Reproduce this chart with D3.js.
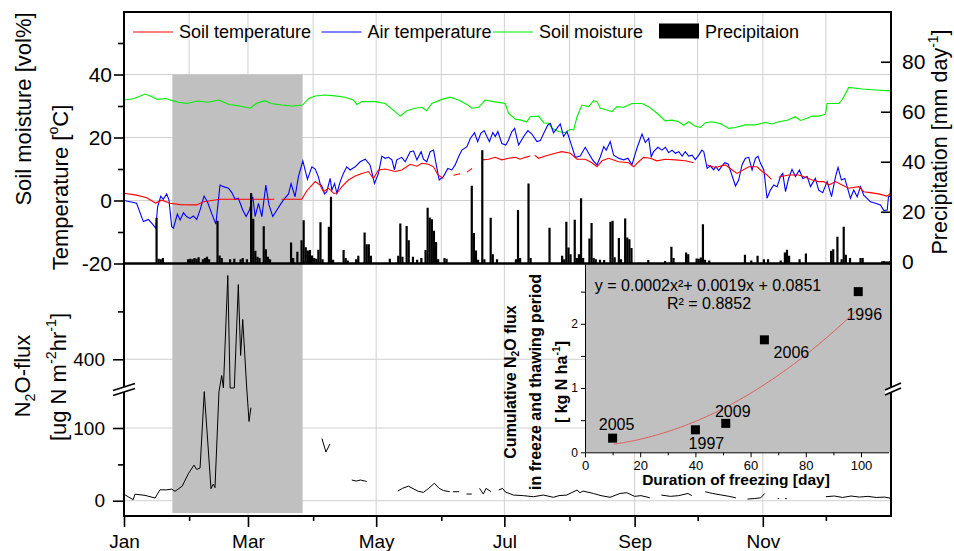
<!DOCTYPE html>
<html>
<head>
<meta charset="utf-8">
<script src="https://cdn.jsdelivr.net/npm/d3@7"></script>
<style>
  body { margin: 0; background: #fff; }
  svg { display: block; }
  text { font-family: "Liberation Sans", Arial, sans-serif; fill: #000; }
</style>
</head>
<body>
<svg id="chart" width="954" height="551"></svg>
<script>
// ---- Daily series, [day of year (0 = 1 Jan), value]; null marks a gap in the record ----
const airTemperature = [
  [0,0],[2.9,-0.4],[6,-0.9],[9.2,-6.7],[11.6,-6],[14,-7.8],[15.1,-8.8],[16,-2],[17.5,1.4],[18.7,0.4],
  [20.3,2.1],[21.4,0.2],[22.7,-8.3],[23.5,-8.8],[25.4,-4.3],[26.7,-6.2],[28.3,-3.9],[29.8,-5.1],[31.4,-5.7],
  [33,-4.9],[34.6,-6],[36.2,-3],[38.1,1.4],[39.7,-0.4],[41.7,-4.1],[43.7,-7.5],[45.7,4.9],[47.3,4.4],
  [49.7,3.9],[51.3,2.5],[52.9,0.4],[54.4,0.7],[56.5,-3],[58.1,-5.1],[59.7,-3],[61.3,1.2],[62.4,-5.1],
  [64,-0.9],[65.6,-5.1],[67.5,4.9],[69,-1.4],[70.8,-5.1],[74.3,-1.4],[75.9,0.2],[78.3,2.1],[79.5,5.4],
  [81.4,1.2],[83,7.6],[85.1,12.6],[87.3,6.7],[89.4,10.7],[91,10],[92.5,7.5],[93.3,5.4],[94.4,4.2],
  [95.4,2.1],[96.5,2.8],[98.1,7],[98.9,3.3],[100.2,5.4],[101.3,2.3],[102.9,6],[104.4,8.6],[106,10.7],
  [107.6,9.7],[110,10.7],[112.4,12.3],[114.8,13.1],[117.1,11.3],[119.2,5.4],[121.1,8.6],[122.7,14.1],
  [124.3,13.4],[125.9,13.7],[127.5,12.9],[128.7,9.7],[129.8,12.9],[132.2,13.7],[133.8,12.3],[136.2,15.5],
  [137.8,15.7],[139.4,12.9],[141.4,15.5],[142.5,13.1],[144.1,12.3],[145.7,15.5],[147.3,16],[148.4,12],
  [150,6.5],[152,7.6],[154.1,10.2],[156,9.7],[157.6,11.3],[159.2,13.9],[160.8,16],[163.2,17.1],
  [164.8,19.7],[166.8,21.5],[168.3,18.7],[169.8,21.3],[171.4,22.2],[172.7,20.3],[173.9,18.7],[175.5,21.6],
  [176.7,20.3],[177.9,21.9],[179.8,18.1],[181.7,17.6],[183,19.2],[184.6,21.9],[185.9,22.9],[187.8,17.6],
  [190.2,20.3],[192.2,22.2],[194.1,21.1],[196.5,18.7],[198.1,19],[199.7,21.3],[201.7,24],[202.9,24.5],
  [204.4,21.5],[206,22.9],[207.6,24.3],[209.2,20.3],[210.8,21.9],[212.4,18.7],[214.8,13.7],[217.1,14.1],
  [219.5,16.9],[221.1,15],[223,12.9],[225.1,11.3],[226.7,13.9],[228.3,17.1],[229.5,16],[231.4,18.7],
  [233,14.4],[235.4,13.4],[237.8,12.9],[239.8,13.4],[241.7,11.3],[244.1,16.6],[246.5,21.1],[248.1,18.4],
  [249.7,19.7],[250.9,13.9],[252,15.5],[254.1,16.9],[256,16],[257.6,16.9],[259.2,15.2],[260.8,16],
  [262.4,15],[264,15.5],[265.6,14.1],[267.1,15.5],[268.7,14.1],[270.3,14.4],[271.9,13],[273.5,14.4],
  [275,16],[275.9,15.5],[277.5,10.2],[279,11],[280.6,9.7],[281.7,10.7],[283,9.5],[284.6,11],[285.9,12],
  [287.5,11.6],[289,8.6],[291,4.6],[292.5,6.5],[294.1,11.3],[295.7,13.4],[297.3,13.7],[298.9,9.7],
  [300.5,13.4],[301.7,14.1],[302.9,11.8],[304.5,9.7],[306,0.7],[307.6,3.3],[309.2,4.9],[310.8,4.4],
  [312.4,7.6],[313.5,8.6],[314.8,2.8],[316.3,7],[317.9,9.9],[319.5,7.6],[321.4,9.7],[323,7],[325.1,7.6],
  [326.7,4.4],[329,7],[330.6,3.3],[332.5,2.5],[334.6,6],[336.7,1.2],[338.6,7.6],[339.8,10.5],[341.4,6.5],
  [343,7],[344.1,4.4],[345.7,0.7],[347.3,3.3],[348.9,1.2],[350.5,4.4],[352,1.7],[353.6,0.7],[355.2,-0.4],
  [357.6,-0.9],[360,-1.4],[361.6,-3.2],[363.2,-3],[363.8,1.2],[364.6,1.5],[365,8.5]
];

const soilTemperature = [
  [0,2.3],[6,1.7],[10.8,0.9],[15,-0.8],[18,0.1],[21.9,-0.9],[26.7,-1.3],[34.6,-1.4],[37.8,-0.4],
  [45.7,0.4],[53.7,0.4],[62,0.4],[71.5,0.4],[72,null],[75,0.4],[84.6,0.4],[87,3.1],[90.2,5.4],[91,6],
  [93.3,4.9],[94.9,2.8],[97.3,3.9],[99.7,2.3],[101.3,2.3],[103.7,4.4],[106.8,6.5],[110,7.8],[113.2,8.6],
  [116.3,9.2],[118.7,7],[121.1,9.7],[124.3,10],[129,9.2],[132.2,9.7],[136.2,11.5],[139.4,10.9],
  [141.7,11.8],[144.9,11.5],[147.3,10.7],[149.4,8.1],[152,7],[153,null],[156.8,8],[160,8.5],[161,null],
  [163.2,9],[165.6,10.2],[167,null],[170.3,12.9],[173.5,13.1],[176.7,13.7],[179.8,12.9],[183,13.4],
  [186.2,13.7],[188.5,13.1],[191,13.7],[193.3,14.1],[194,null],[195.4,14.4],[197.3,13.4],[200.5,14.1],
  [205.2,15],[208.4,15.5],[212.4,15],[215.6,13.1],[219.5,13.1],[222.7,12],[225.1,10.7],[227.5,12.6],
  [230.6,13.4],[235.4,12.3],[240.2,12],[242.5,10.7],[244.9,12.3],[247.3,13.7],[250.4,13.4],[253.6,12.6],
  [257.6,13.1],[262.4,12.9],[267.1,12.6],[271.1,12],[272,null],[277.5,11.3],[281.4,10.5],[286.2,11.3],
  [289.4,9.7],[291.7,8.6],[297.3,10.7],[301.3,10.7],[303.7,9.2],[306,8.1],[308.1,6.7],[309,null],
  [311.6,7.4],[314,7.8],[316.3,8.1],[321.1,8.1],[324.3,7.4],[327.5,6.5],[330.6,6],[333,6],[335.4,4.9],
  [338.6,6],[341.7,4.9],[344.9,3.9],[349.7,4.4],[352,2.8],[355.2,2.5],[359.1,2.1],[363.1,1.4],[365,2.3]
];

const soilMoisture = [
  [0,31.9],[5,32.4],[10,33.8],[13,33],[16,32.1],[20,32.4],[23,31.7],[26,31.2],[30,30.8],[35,31.6],
  [40,31.2],[45,31.9],[50,30.5],[55,30],[60,29.3],[63,30.8],[67,31.7],[70,30.8],[75,30.3],[80,30],
  [85,30.3],[88,32.4],[91,33.2],[95.7,33.5],[100.5,33.2],[105.2,32.8],[109.2,31.9],[110.8,30.5],
  [113.2,31.4],[119.5,31.4],[124.3,30.8],[129,28.2],[131.4,26.8],[134.6,28.5],[138.6,29.3],[141.7,29.6],
  [144,28.5],[146.5,30.8],[151.3,32.1],[155.2,32.8],[159.2,31.9],[163.2,30.5],[165.6,29.3],[168.7,29.6],
  [171.9,31.9],[175.9,31.4],[179.8,31],[181.4,30.8],[183,27.7],[186.2,25.8],[188.6,25.6],[191.7,25],
  [193.3,26.6],[197.3,26.8],[199.7,24.7],[202,24.5],[203.7,22.9],[206.8,21.9],[210,21.5],[212.4,22.6],
  [214,22.4],[215.6,26.6],[217.9,30.3],[221.1,29.8],[223.5,31.7],[225.1,31.4],[226.7,29.3],[229,28.9],
  [232.2,28.2],[234.6,29.8],[237.8,29.6],[241.7,30.8],[246.5,30.8],[249.7,29.8],[253.7,27.7],[257.6,25.3],
  [260.8,25.5],[264,25],[266.4,23.9],[268.7,25],[271.9,23.6],[274.3,23.2],[276.7,24.7],[279.8,25],
  [283.8,24.4],[287.8,22.9],[290.9,23.2],[295.7,24],[300.5,24],[305.2,24.8],[308.4,24.3],[311.6,25],
  [315.6,25.5],[319.5,26.6],[321.9,25.4],[325.1,26.1],[327.5,26.8],[330.6,26.8],[333.8,27.4],[334.6,30.8],
  [340.2,30.8],[341.7,31.9],[344.9,35.9],[351.3,35.4],[357.6,35.1],[365,34.8]
];

// daily precipitation, [day of year, mm]
const precipitation = [
  [15,17.5],[16,1.2],[17,1.0],[18,1.5],[30,1.0],[31,1.2],[32,1.0],[33,1.5],[34,1.2],[35,1.8],
  [37,1.0],[38,1.5],[39,2.0],[40,1.0],[44,16.4],[45,2.5],[46,1.5],[50,1.0],[52,1.2],[55,1.0],[56,1.5],
  [58,1.0],[60,27.5],[61,17.2],[62,4.4],[63,2.0],[64,1.5],[66,14.2],[67,5.0],[68,2.0],[69,1.0],
  [79,7.7],[80,1.5],[82,4.0],[84,8.6],[85,16.6],[86,5.8],[87,4.5],[88,4.7],[89,2.5],[90,1.5],[91,1.2],
  [92,4.8],[93,15.8],[94,1.0],[97,14.0],[98,26.0],[99,0.8],[104,4.7],[105,1.5],[106,0.5],[110,1.0],
  [111,2.4],[114,11.7],[115,7.0],[116,7.0],[117,2.4],[126,1.2],[130,2.4],[131,15.3],[132,2.0],
  [134,14.3],[135,8.6],[137,2.0],[139,0.8],[141,1.5],[143,4.7],[144,21.6],[145,17.7],[146,17.0],
  [147,12.4],[148,7.9],[149,1.0],[152,1.5],[153,1.2],[165,30.4],[166,11.5],[167,4.5],[168,0.8],
  [170,44.6],[171,1.0],[174,17.6],[175,3.0],[177,1.0],[186,1.0],[187,20.7],[188,1.5],[192,31.3],
  [193,1.5],[202,13.6],[208,2.4],[209,1.0],[210,16.0],[211,5.7],[212,3.0],[214,16.8],[215,1.5],
  [216,3.0],[217,25.4],[218,1.5],[221,9.3],[222,15.5],[223,1.5],[224,1.0],[226,0.8],[228,0.7],
  [231,16.0],[232,16.4],[233,1.8],[235,9.5],[236,1.0],[238,17.3],[239,9.7],[240,9.0],[241,5.5],
  [249,0.7],[257,0.3],[260,6.0],[261,1.5],[267,3.7],[268,3.0],[272,1.3],[273,1.2],[274,1.7],
  [275,15.0],[276,0.8],[278,0.5],[295,2.8],[298,0.5],[301,2.4],[304,1.0],[306,1.0],[312,0.5],
  [314,3.7],[315,4.8],[316,2.4],[321,1.0],[324,3.3],[336,4.4],[337,5.0],[339,10.0],[341,1.0],
  [342,14.0],[343,2.8],[345,1.5],[350,1.5],[351,1.5],[361,0.3],[364,0.3]
];

// N2O flux, [day of year, ug N m-2 hr-1]; values inside the axis break sit on the break
const n2oFlux = [
  [0.5,8],[4.4,1.4],[5.2,9],[10,7.4],[14.8,3.7],[17.1,15],[20.3,15],[22.7,16],[24.3,13],[27.7,20],
  [30.6,37],[33.3,49],[34.6,43],[36.2,45],[38.2,150],[41.4,16.5],[42.5,23],[43.3,18],[45.2,150],
  [46.5,366],[47.3,250],[49.4,575],[50.5,250],[52.5,250],[54.4,556],[55.5,408],[56.5,483],[58.4,250],
  [59.5,109],[60.4,128],[61,null],
  [94.2,85.5],[96.1,67],[98,78],[99,null],
  [108.4,28.5],[110.5,27],[112.5,28.5],[115.5,26.5],[116,null],
  [130.3,13.3],[132.5,17],[135.3,20],[138,16],[140,13],[142.5,11.5],[145,17],[147.7,24],[150,17],
  [152,14],[155,12.4],[155.5,null],[156.5,12.4],[159.5,12.4],[160,null],[163,9.2],[165.5,9.2],[166,null],
  [169.2,17],[171,9.2],[172.3,17],[174.7,12.4],[175,null],
  [178.3,14.7],[180.1,17],[181.5,12],[185.3,7.8],[190,7],[194.8,5.5],[199.6,7.8],[204.3,4.7],[207,7],
  [210.7,7.8],[215.6,14.7],[217,11],[218.4,13.3],[223.4,10],[227,7],[231.3,4.7],[236,10],[239.3,11],
  [243,6],[246,7],[250.2,4.1],[251,null],
  [255.7,7.8],[260,6],[264,7],[268.4,10],[270.2,7],[271,null],
  [276.6,12.4],[280,10],[284,8],[288,6],[291.2,4],[292,null],
  [296.7,2.3],[300,3],[303,4],[304.9,10],[305.5,null],
  [311,3],[311.8,3],[312.5,null],[314.6,3],[315.4,3],[316,null],
  [334,5.5],[338,6.5],[342,4.5],[346,6.5],[350,5],[354,6],[358,4.5],[362,5],[364.6,3.5]
];

// freeze-thaw period: first and last day of soil freezing
const freezePeriod = [23, 85];

// inset: cumulative flux against duration of freezing
const freezeYears = ["2005", "1997", "2009", "2006", "1996"];
const freezeDuration = [10, 40, 51, 65, 99];
const cumulativeFlux = [0.22, 0.35, 0.45, 1.75, 2.5];
const fitCoefficients = [0.0002, 0.0019, 0.0851]; // a x^2 + b x + c
const fitR2 = 0.8852;

// axis tick values
const tempTicks = [-20, 0, 20, 40];
const tempMinorTicks = [-10, 10, 30, 50];
const precipTicks = [0, 20, 40, 60, 80];
const fluxTicks = [0, 100, 400];
const fluxMinorTicks = [50, 500];
const insetXTicks = [0, 20, 40, 60, 80, 100];
const insetXMinor = [10, 30, 50, 70, 90];
const insetYTicks = [0, 1, 2];
const insetYMinor = [0.5, 1.5, 2.5];

// ---- layout ----
const W = 954, H = 551;
const L = 124, R = 891, T = 12, MID = 263.5, B = 516;
const FONT = '"Liberation Sans", Arial, sans-serif';

const svg = d3.select("#chart");
svg.append("rect").attr("width", W).attr("height", H).attr("fill", "#fff");

const t0 = Date.UTC(2009, 0, 1);
const xTime = d3.scaleUtc().domain([new Date(t0), new Date(Date.UTC(2010, 0, 1))]).range([L, R]);
const x = d => xTime(new Date(t0 + d * 864e5));
const yT = d3.scaleLinear().domain([-20, 60]).range([MID, 11.5]);
const yP = d3.scaleLinear().domain([-0.7, 100]).range([MID, 11.75]);
// broken flux axis: lower part -21..155, upper part 340..600
const yN = d3.scaleLinear().domain([-21, 155, 340, 600]).range([B, 388, 388, MID]);

const defs = svg.append("defs");
defs.append("clipPath").attr("id", "clipTop").append("rect")
  .attr("x", L).attr("y", T).attr("width", R - L).attr("height", MID - T);
defs.append("clipPath").attr("id", "clipBot").append("rect")
  .attr("x", L).attr("y", MID).attr("width", R - L).attr("height", B - MID);

// ---- grid ----
const grid = svg.append("g").attr("stroke", "#d0d0d0").attr("stroke-width", 1);
const allMonths = d3.utcMonth.range(new Date(Date.UTC(2009, 1, 1)), new Date(Date.UTC(2010, 0, 1)));
allMonths.forEach(m => grid.append("line")
  .attr("x1", xTime(m)).attr("x2", xTime(m)).attr("y1", T).attr("y2", MID));
[0, 20, 40].forEach(v => grid.append("line")
  .attr("x1", L).attr("x2", R).attr("y1", yT(v)).attr("y2", yT(v)));
const majorMonths = d3.utcMonth.every(2).range(new Date(t0), new Date(Date.UTC(2010, 0, 1)));
majorMonths.slice(1).forEach(m => grid.append("line")
  .attr("x1", xTime(m)).attr("x2", xTime(m)).attr("y1", MID).attr("y2", B));
fluxTicks.forEach(v => grid.append("line")
  .attr("x1", L).attr("x2", R).attr("y1", yN(v)).attr("y2", yN(v)));

// ---- freeze-thaw shading across both panels ----
svg.append("rect")
  .attr("x", x(freezePeriod[0])).attr("width", x(freezePeriod[1]) - x(freezePeriod[0]))
  .attr("y", yT(40)).attr("height", yN(-17) - yT(40))
  .attr("fill", "#c0c0c0");

// ---- top panel series ----
const topPanel = svg.append("g").attr("clip-path", "url(#clipTop)");
const lineT = d3.line().defined(d => d[1] != null).x(d => x(d[0])).y(d => yT(d[1]));
topPanel.append("path").datum(soilMoisture).attr("d", lineT)
  .attr("fill", "none").attr("stroke", "#00ee00").attr("stroke-width", 1.1);
topPanel.append("path").datum(airTemperature).attr("d", lineT)
  .attr("fill", "none").attr("stroke", "#0000ff").attr("stroke-width", 1.1);
topPanel.append("path").datum(soilTemperature).attr("d", lineT)
  .attr("fill", "none").attr("stroke", "#ff0000").attr("stroke-width", 1.1);
topPanel.selectAll("rect.bar").data(precipitation).join("rect").attr("class", "bar")
  .attr("x", d => x(d[0] + 0.5) - 1.1).attr("width", 2.2)
  .attr("y", d => yP(d[1])).attr("height", d => yP(0) - yP(d[1]) + 2)
  .attr("fill", "#000");

// ---- bottom panel flux line ----
const bottomPanel = svg.append("g").attr("clip-path", "url(#clipBot)");
bottomPanel.append("path").datum(n2oFlux)
  .attr("d", d3.line().defined(d => d[1] != null).x(d => x(d[0])).y(d => yN(d[1])))
  .attr("fill", "none").attr("stroke", "#000").attr("stroke-width", 1);

// ---- inset ----
const xi = d3.scaleLinear().domain([0, 110]).range([585, 888.6]);
const yi = d3.scaleLinear().domain([0, 2.93]).range([452.3, 264]);
const inset = svg.append("g");
inset.append("rect").attr("x", 585).attr("y", 264).attr("width", R - 585).attr("height", 452.3 - 264)
  .attr("fill", "#c0c0c0");
const fit = v => fitCoefficients[0] * v * v + fitCoefficients[1] * v + fitCoefficients[2];
inset.append("path").datum(d3.range(10.5, 98.6, 0.5))
  .attr("d", d3.line().x(v => xi(v)).y(v => yi(fit(v))))
  .attr("fill", "none").attr("stroke", "#e05a5a").attr("stroke-width", 1);
const pts = freezeYears.map((yr, i) => ({ yr, d: freezeDuration[i], f: cumulativeFlux[i] }));
inset.selectAll("rect.pt").data(pts).join("rect").attr("class", "pt")
  .attr("x", p => xi(p.d) - 4.5).attr("y", p => yi(p.f) - 4.5)
  .attr("width", 9).attr("height", 9).attr("fill", "#000");
const labelOffset = { "2005": [4, -8], "1997": [11, 19], "2009": [7, -6], "2006": [27, 18.5], "1996": [6, 28] };
inset.selectAll("text.yr").data(pts).join("text").attr("class", "yr")
  .attr("x", p => xi(p.d) + labelOffset[p.yr][0]).attr("y", p => yi(p.f) + labelOffset[p.yr][1])
  .attr("text-anchor", "middle").attr("font-size", 16).text(p => p.yr);
inset.append("text").attr("x", 708).attr("y", 291).attr("text-anchor", "middle").attr("font-size", 16)
  .text(`y = ${fitCoefficients[0]}x\u00B2+ ${fitCoefficients[1]}x + ${fitCoefficients[2]}`);
inset.append("text").attr("x", 709).attr("y", 309).attr("text-anchor", "middle").attr("font-size", 16)
  .text(`R\u00B2 = ${fitR2}`);

function styleAxis(g, size, width) {
  g.attr("font-family", FONT).attr("font-size", size);
  g.selectAll(".tick line").attr("stroke-width", width);
  g.selectAll("text").attr("fill", "#000");
}
const ixa = inset.append("g").attr("transform", "translate(0,452.3)")
  .call(d3.axisBottom(xi).tickValues(insetXTicks).tickSize(5).tickSizeOuter(0).tickPadding(3)
    .tickFormat(d => String(d)));
styleAxis(ixa, 13, 1);
inset.append("g").attr("transform", "translate(0,452.3)")
  .call(d3.axisBottom(xi).tickValues(insetXMinor).tickSize(3).tickFormat(""))
  .call(g => g.select(".domain").remove());
const iya = inset.append("g").attr("transform", "translate(585,0)")
  .call(d3.axisLeft(yi).tickValues(insetYTicks).tickSize(4).tickSizeOuter(0).tickPadding(3)
    .tickFormat(d => String(d)));
styleAxis(iya, 12, 1);
inset.append("g").attr("transform", "translate(585,0)")
  .call(d3.axisLeft(yi).tickValues(insetYMinor).tickSize(4).tickFormat(""))
  .call(g => g.select(".domain").remove());
inset.append("text").attr("x", 736).attr("y", 485).attr("text-anchor", "middle")
  .attr("font-size", 15.5).attr("font-weight", "bold").text("Duration of freezing [day]");

// rich text helper: parts with optional sup / sub
function rich(sel, parts, size) {
  let shift = 0;
  parts.forEach(p => {
    const target = p.sup ? -0.42 * size : p.sub ? 0.22 * size : 0;
    sel.append("tspan").attr("dy", target - shift)
      .attr("font-size", (p.sup || p.sub) ? size * 0.65 : size).text(p.t);
    shift = target;
  });
}
function vtitle(cx, cy, parts, size, bold) {
  const t = svg.append("text").attr("transform", `translate(${cx},${cy}) rotate(-90)`)
    .attr("text-anchor", "middle").attr("font-size", size).attr("y", size * 0.35);
  if (bold) t.attr("font-weight", "bold");
  rich(t, parts, size);
}
vtitle(510, 382, [{ t: "Cumulative N" }, { t: "2", sub: true }, { t: "O flux" }], 16, true);
vtitle(535.5, 382, [{ t: "in freeze and thawing period" }], 16, true);
vtitle(561, 382, [{ t: "[ kg N ha" }, { t: "-1", sup: true }, { t: "]" }], 16, true);

// ---- frames ----
svg.append("rect").attr("x", L).attr("y", T).attr("width", R - L).attr("height", MID - T)
  .attr("fill", "none").attr("stroke", "#000").attr("stroke-width", 2);
svg.append("rect").attr("x", L).attr("y", MID).attr("width", R - L).attr("height", B - MID)
  .attr("fill", "none").attr("stroke", "#000").attr("stroke-width", 2);

// ---- axes ----
const axTL = svg.append("g").attr("transform", `translate(${L},0)`)
  .call(d3.axisLeft(yT).tickValues(tempTicks).tickSize(10).tickPadding(2).tickFormat(d => String(d)))
  .call(g => g.select(".domain").remove());
styleAxis(axTL, 21, 1.6);
svg.append("g").attr("transform", `translate(${L},0)`)
  .call(d3.axisLeft(yT).tickValues(tempMinorTicks).tickSize(6).tickFormat(""))
  .call(g => g.select(".domain").remove())
  .selectAll("line").attr("stroke-width", 1.6);

const axR = svg.append("g").attr("transform", `translate(${R},0)`)
  .call(d3.axisRight(yP).tickValues(precipTicks).tickSize(-10).tickPadding(11).tickFormat(d => String(d)))
  .call(g => g.select(".domain").remove());
styleAxis(axR, 21, 1.6);

const axBL = svg.append("g").attr("transform", `translate(${L},0)`)
  .call(d3.axisLeft(yN).tickValues(fluxTicks).tickSize(11).tickPadding(8).tickFormat(d => String(d)))
  .call(g => g.select(".domain").remove());
styleAxis(axBL, 19, 1.6);
svg.append("g").attr("transform", `translate(${L},0)`)
  .call(d3.axisLeft(yN).tickValues(fluxMinorTicks).tickSize(6).tickFormat(""))
  .call(g => g.select(".domain").remove())
  .selectAll("line").attr("stroke-width", 1.6);

const axX = svg.append("g").attr("transform", `translate(0,${B})`)
  .call(d3.axisBottom(xTime).tickValues(majorMonths).tickSize(11).tickPadding(7.5).tickFormat(d3.utcFormat("%b")))
  .call(g => g.select(".domain").remove());
styleAxis(axX, 19, 1.6);
svg.append("g").attr("transform", `translate(0,${B})`)
  .call(d3.axisBottom(xTime).tickValues(allMonths.filter((m, i) => i % 2 === 0)).tickSize(5).tickFormat(""))
  .call(g => g.select(".domain").remove())
  .selectAll("line").attr("stroke-width", 1.6);

// ---- axis break marks ----
function breakMark(cx, cy, half) {
  const g = svg.append("g");
  const dy = 7, gap = 5;
  g.append("polygon")
    .attr("points", `${cx - half},${cy + dy / 2} ${cx + half},${cy - dy / 2} ${cx + half},${cy - dy / 2 + gap} ${cx - half},${cy + dy / 2 + gap}`)
    .attr("fill", "#fff");
  [0, gap].forEach(o => g.append("line")
    .attr("x1", cx - half).attr("y1", cy + dy / 2 + o).attr("x2", cx + half).attr("y2", cy - dy / 2 + o)
    .attr("stroke", "#000").attr("stroke-width", 1.8));
}
breakMark(L, 387, 11);
breakMark(R + 2, 386.5, 8);

// ---- axis titles ----
vtitle(23, 109, [{ t: "Soil moisture [vol%]" }], 22);
vtitle(60, 187.5, [{ t: "Temperature [" }, { t: "o", sup: true }, { t: "C]" }], 22);
vtitle(939.5, 142, [{ t: "Precipitation [mm day" }, { t: "-1", sup: true }, { t: "]" }], 21.5);
vtitle(22, 376, [{ t: "N" }, { t: "2", sub: true }, { t: "O-flux" }], 22);
vtitle(58, 377, [{ t: "[ug N m" }, { t: "-2", sup: true }, { t: "hr" }, { t: "-1", sup: true }, { t: "]" }], 22);

// ---- legend ----
const legend = svg.append("g").attr("font-size", 18);
const legendItems = [
  { label: "Soil temperature", color: "#ff0000", x0: 133 },
  { label: "Air temperature", color: "#0000ff", x0: 321.5 },
  { label: "Soil moisture", color: "#00ee00", x0: 493 }
];
legendItems.forEach(it => {
  legend.append("line").attr("x1", it.x0).attr("x2", it.x0 + 40).attr("y1", 32).attr("y2", 32)
    .attr("stroke", it.color).attr("stroke-width", 1.1);
  legend.append("text").attr("x", it.x0 + 46).attr("y", 38).text(it.label);
});
legend.append("rect").attr("x", 659).attr("y", 23.5).attr("width", 40).attr("height", 15).attr("fill", "#000");
legend.append("text").attr("x", 705).attr("y", 38).text("Precipitaion");
</script>
</body>
</html>
